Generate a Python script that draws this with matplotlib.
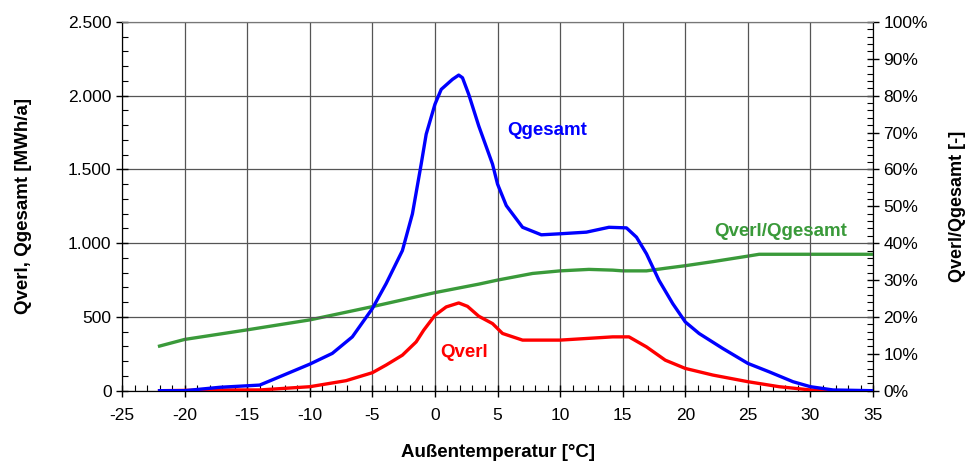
import numpy as np
import matplotlib
matplotlib.use('Agg')
import matplotlib.pyplot as plt
from matplotlib.ticker import MultipleLocator, FuncFormatter, PercentFormatter

plt.rcParams['font.family'] = ['Liberation Sans', 'DejaVu Sans']
plt.rcParams['axes.unicode_minus'] = False

# Qgesamt [MWh/a] over outside temperature
t_ges = [-22, -20, -17.2, -14, -12.7, -10, -8.2, -6.6, -5, -3.9, -2.6, -1.8, -1.1, -0.7,
         0, 0.5, 1.4, 1.9, 2.2, 2.7, 3.5, 4.6, 5, 5.7, 7, 8.5, 10, 12.1, 13.9, 15.3,
         16.1, 16.9, 17.9, 19, 20, 21.1, 23, 25, 26.7, 28.6, 30, 31.8, 35]
q_ges = [0, 0, 23, 38, 84, 180, 253, 365, 557, 726, 950, 1199, 1536, 1739,
         1942, 2043, 2111, 2140, 2122, 2009, 1795, 1536, 1401, 1255, 1108, 1057, 1064, 1075, 1108, 1104,
         1041, 928, 748, 590, 466, 388, 286, 185, 128, 61, 27, 5, 0]

# Qverl [MWh/a]
t_verl = [-22, -17.2, -14, -10, -7.1, -5, -3.9, -2.6, -1.5, -0.9, 0, 0.9, 1.9, 2.6,
          3.5, 4.6, 5.4, 7, 10, 14.2, 15.5, 16.9, 18.4, 20, 22.2, 25, 27.5, 30, 31.8, 35]
q_verl = [0, 5, 5, 27, 68, 122, 174, 241, 331, 410, 511, 568, 595, 572,
          505, 455, 388, 343, 343, 365, 365, 297, 207, 151, 106, 61, 27, 5, 0, 0]

# Qverl/Qgesamt [%]
t_ratio = [-22, -20, -15, -10, -5, 0, 3.5, 5, 7.8, 10, 12.3, 14.2, 15, 16.9, 18.4,
           20, 22.2, 25, 25.9, 35]
ratio = [12.1, 13.9, 16.5, 19.2, 22.8, 26.6, 28.9, 30.0, 31.8, 32.5, 32.9, 32.7, 32.5, 32.5, 33.2,
         33.9, 35.0, 36.5, 37.0, 37.0]

fig = plt.figure(figsize=(9.69, 4.66), dpi=100)
ax = fig.add_axes([0.1259, 0.1616, 0.901 - 0.1259, 0.9528 - 0.1616])
ax2 = ax.twinx()

ax.set_xlim(-25, 35)
ax.set_ylim(0, 2500)
ax2.set_ylim(0, 100)

ax.grid(True, which='major', color='#555555', lw=0.9)
ax.set_axisbelow(True)
ax.spines['top'].set_color('#777777')
ax2.spines['top'].set_color('#777777')

ax2.plot(t_ratio, ratio, color='#3a9a3a', lw=2.4, zorder=3)
ax.plot(t_verl, q_verl, color='#ff0000', lw=2.4, zorder=3)
ax.plot(t_ges, q_ges, color='#0000ff', lw=2.4, zorder=4)
# primary axes above the twin so blue/red sit over green
ax.set_zorder(ax2.get_zorder() + 1)
ax.patch.set_visible(False)

ax.xaxis.set_major_locator(MultipleLocator(5))
ax.xaxis.set_minor_locator(MultipleLocator(1))
ax.yaxis.set_major_locator(MultipleLocator(500))
ax.yaxis.set_minor_locator(MultipleLocator(100))
ax.yaxis.set_major_formatter(FuncFormatter(lambda v, p: f'{int(v):,}'.replace(',', '.')))
ax2.yaxis.set_major_locator(MultipleLocator(10))
ax2.yaxis.set_minor_locator(MultipleLocator(2))
ax2.yaxis.set_major_formatter(PercentFormatter(decimals=0))

for a in (ax, ax2):
    a.tick_params(which='major', direction='inout', length=9, width=1, labelsize=12.5, pad=3)
    a.tick_params(which='minor', direction='in', length=4, width=0.8)
ax.tick_params(axis='x', pad=8)

ax.set_xlabel('Außentemperatur [°C]', fontsize=13.5, fontweight='bold', labelpad=15)
ax.set_ylabel('Qverl, Qgesamt [MWh/a]', fontsize=13.5, fontweight='bold', labelpad=26)
ax2.set_ylabel('Qverl/Qgesamt [-]', fontsize=13, fontweight='bold', labelpad=15)

ax.text(5.8, 1761, 'Qgesamt', color='#0000ff', fontsize=13.5, fontweight='bold', va='center')
ax.text(0.4, 261, 'Qverl', color='#ff0000', fontsize=13.5, fontweight='bold', va='center')
ax.text(22.3, 1079, 'Qverl/Qgesamt', color='#3a9a3a', fontsize=13.5, fontweight='bold', va='center')

fig.savefig('out.png', dpi=100)
